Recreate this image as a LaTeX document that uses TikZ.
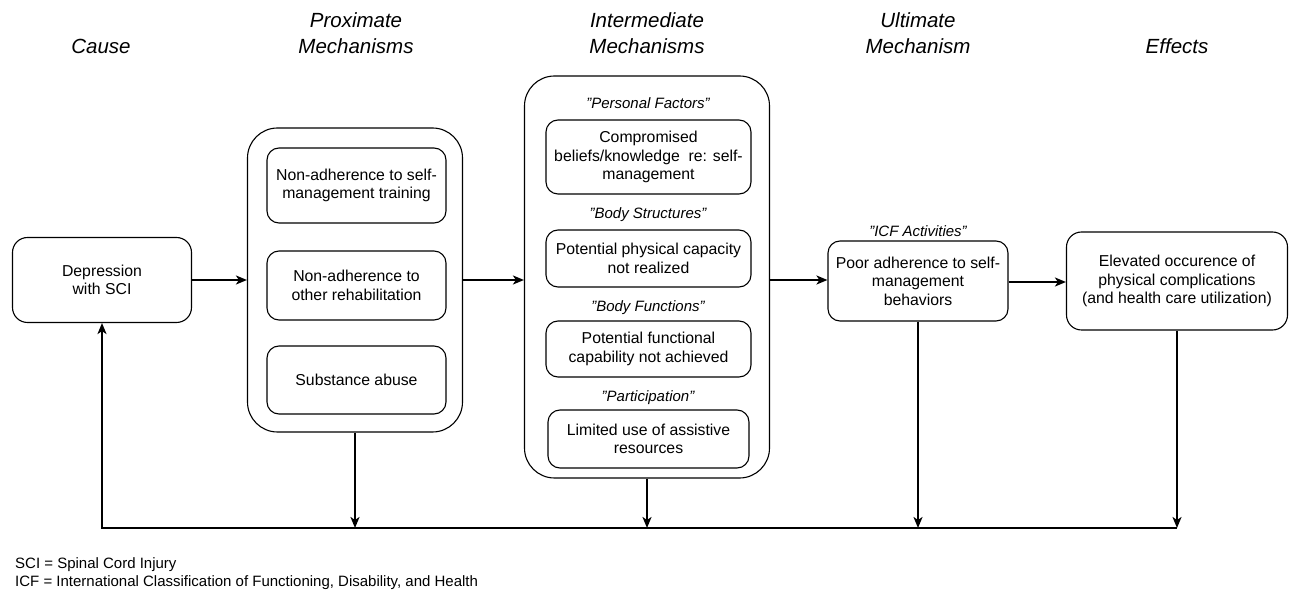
\documentclass[tikz,border=0pt]{standalone}
\usepackage{fontspec}
\setmainfont{Liberation Sans}
\usetikzlibrary{arrows.meta}
\newcommand{\qq}{\symbol{34}}
\begin{document}
\begin{tikzpicture}[x=1pt,y=-1pt,
  box/.style={draw, line width=1.1pt, rounded corners=12pt, align=center, inner sep=0pt,
    font=\fontsize{15.8}{18.5}\selectfont},
  outerbox/.style={draw, line width=1.1pt, rounded corners=30pt, inner sep=0pt},
  lab/.style={inner sep=0pt, font=\fontsize{15}{18}\selectfont\itshape},
  head/.style={inner sep=0pt, align=center, font=\fontsize{20.5}{26}\selectfont\itshape},
  foot/.style={inner sep=0pt, anchor=west, font=\fontsize{15}{17}\selectfont},
  arr/.style={line width=2pt, -{Stealth[length=11pt,width=9pt,inset=3pt]}},
  varr/.style={line width=2pt, -{Stealth[length=11pt,width=9pt,inset=3pt]}}
]
\useasboundingbox (0,0) rectangle (1291,593);

% headings
\node[head] (hcause) at (101,46) {Cause};
\node[head] (hprox) at (356,33) {Proximate\\Mechanisms};
\node[head] (hinter) at (647,33) {Intermediate\\Mechanisms};
\node[head] (hult) at (918,33) {Ultimate\\Mechanism};
\node[head] (heff) at (1177,46) {Effects};

% cause
\node[box, rounded corners=15pt, minimum width=179pt, minimum height=85pt] (cause) at (102,280) {Depression\\with SCI};

% proximate
\node[outerbox, minimum width=215pt, minimum height=304pt] (proxout) at (355,280) {};
\node[box, minimum width=179pt, minimum height=75pt] (p1) at (356.5,185.5) {Non-adherence to self-\\management training};
\node[box, minimum width=179pt, minimum height=69pt] (p2) at (356.5,285.5) {Non-adherence to\\other rehabilitation};
\node[box, minimum width=179pt, minimum height=68pt] (p3) at (356.5,380) {Substance abuse};

% intermediate
\node[outerbox, minimum width=245pt, minimum height=402pt] (interout) at (647,277) {};
\node[lab] (l1) at (648,103) {\qq Personal Factors\qq};
\node[box, minimum width=205pt, minimum height=74pt] (i1) at (648.5,157) {Compromised\\beliefs/knowledge\ \ re: self-\\management};
\node[lab] (l2) at (648,215) {\qq Body Structures\qq};
\node[box, minimum width=205pt, minimum height=57pt] (i2) at (648.5,258.5) {Potential physical capacity\\not realized};
\node[lab] (l3) at (648,308) {\qq Body Functions\qq};
\node[box, minimum width=205pt, minimum height=56pt] (i3) at (648.5,349) {Potential functional\\capability not achieved};
\node[lab] (l4) at (648,398) {\qq Participation\qq};
\node[box, minimum width=201pt, minimum height=58pt] (i4) at (648.5,439) {Limited use of assistive\\resources};

% ultimate
\node[lab] (l5) at (918,231) {\qq ICF Activities\qq};
\node[box, minimum width=180pt, minimum height=80pt] (ult) at (918,281) {Poor adherence to self-\\management\\behaviors};

% effects
\node[box, rounded corners=15pt, minimum width=221pt, minimum height=98pt] (eff) at (1177,281) {Elevated occurence of\\physical complications\\(and health care utilization)};

% horizontal arrows
\draw[arr] (cause.east) -- (cause.east -| proxout.west);
\draw[arr] (proxout.east |- 0,280) -- (interout.west |- 0,280);
\draw[arr] (interout.east |- 0,280) -- (ult.west |- 0,280);
\draw[arr] (ult.east |- 0,282) -- (eff.west |- 0,282);

% feedback bus
\coordinate (busL) at (102,528);
\coordinate (busR) at (eff.south |- busL);
\draw[varr] (proxout.south) -- (proxout.south |- busL);
\draw[varr] (interout.south) -- (interout.south |- busL);
\draw[varr] (ult.south) -- (ult.south |- busL);
\draw[varr] (eff.south) -- (busR);
\draw[arr, line join=miter] (busR) -- (busL) -- (cause.south);

% footnotes
\node[foot] (f1) at (15,565) {SCI = Spinal Cord Injury};
\node[foot] (f2) at (15,583) {ICF = International Classification of Functioning, Disability, and Health};
\end{tikzpicture}
\end{document}
